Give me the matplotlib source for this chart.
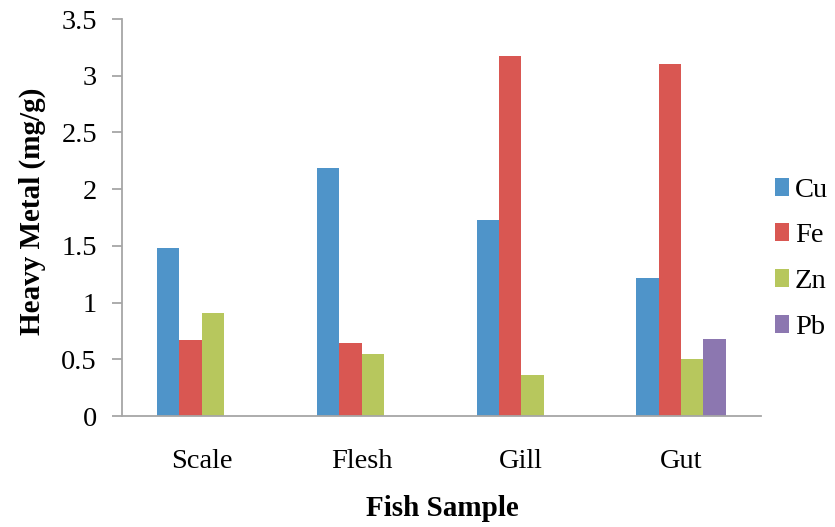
import matplotlib.pyplot as plt
import numpy as np

samples = ["Scale", "Flesh", "Gill", "Gut"]
metals = ["Cu", "Fe", "Zn", "Pb"]
cu = [1.48, 2.19, 1.73, 1.22]
fe = [0.67, 0.64, 3.17, 3.10]
zn = [0.91, 0.55, 0.36, 0.50]
pb = [0.0, 0.0, 0.0, 0.68]
colors = ["#4f94c9", "#d95752", "#b7c75d", "#8c77b0"]

plt.rcParams["font.family"] = ["Liberation Serif", "DejaVu Serif"]

fig = plt.figure(figsize=(8.35, 5.27), dpi=100)
ax = fig.add_axes([0.1461, 0.2106, 0.765, 0.7533])

x = np.arange(len(samples))
width = 0.14
for i, (vals, name) in enumerate(zip([cu, fe, zn, pb], metals)):
    ax.bar(x + (i - 1.5) * width, vals, width, color=colors[i], label=name)

ax.set_xlim(-0.5, 3.5)
ax.set_ylim(0, 3.5)
ax.set_yticks(np.arange(0, 3.51, 0.5))
ax.set_yticklabels(["0", "0.5", "1", "1.5", "2", "2.5", "3", "3.5"])
ax.set_xticks(x)
ax.set_xticklabels(samples)

for side in ["top", "right"]:
    ax.spines[side].set_visible(False)
for side in ["left", "bottom"]:
    ax.spines[side].set_color("#a6a6a6")
    ax.spines[side].set_linewidth(1.3)
ax.tick_params(axis="y", length=7, color="#a6a6a6", width=1.3, labelsize=20.5, pad=11)
ax.tick_params(axis="x", length=0, labelsize=20.5, pad=24)

ax.set_xlabel("Fish Sample", fontsize=21, fontweight="bold")
ax.set_ylabel("Heavy Metal (mg/g)", fontsize=21, fontweight="bold")
ax.xaxis.set_label_coords(0.502, -0.2)
ax.yaxis.set_label_coords(-0.119, 0.515)

fig.legend(loc="center left", bbox_to_anchor=(775 / 835, 1 - 258.7 / 527),
           bbox_transform=fig.transFigure, frameon=False,
           fontsize=20.5, handlelength=0.5, handleheight=0.6,
           labelspacing=0.72, handletextpad=0.2, borderaxespad=0, borderpad=0)

fig.savefig("out.png", dpi=100)
